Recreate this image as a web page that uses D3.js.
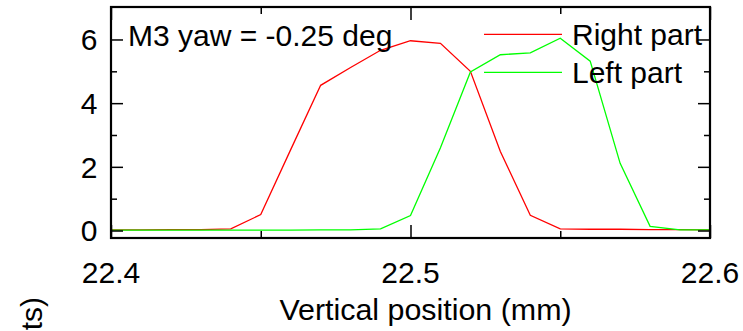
<!DOCTYPE html>
<html>
<head>
<meta charset="utf-8">
<script src="https://cdn.jsdelivr.net/npm/d3@7"></script>
<style>
  html, body { margin: 0; padding: 0; background: #fff; }
  svg { display: block; }
  text { font-family: "Liberation Sans", Arial, sans-serif; fill: #000; }
</style>
</head>
<body>
<svg id="chart" width="743" height="331"></svg>
<script>
// ---- data ----
const positions = [22.40, 22.41, 22.42, 22.43, 22.44, 22.45, 22.46, 22.47, 22.48, 22.49, 22.50,
                   22.51, 22.52, 22.53, 22.54, 22.55, 22.56, 22.57, 22.58, 22.59, 22.60];
const rightPart = [0.02, 0.02, 0.03, 0.03, 0.05, 0.50, 2.54, 4.56, 5.12, 5.66, 5.96,
                   5.88, 5.00, 2.48, 0.48, 0.05, 0.04, 0.04, 0.03, 0.03, 0.02];
const leftPart  = [0.01, 0.01, 0.01, 0.01, 0.01, 0.01, 0.01, 0.02, 0.02, 0.05, 0.47,
                   2.60, 4.98, 5.52, 5.58, 6.04, 5.32, 2.11, 0.13, 0.02, 0.02];
const seriesNames = ["Right part", "Left part"];
const seriesColors = ["#ff0000", "#00ff00"];
const xMajorTicks = [22.4, 22.5, 22.6];
const xMinorTicks = [22.45, 22.55];
const yMajorTicks = [0, 2, 4, 6];
const yMinorTicks = [1, 3, 5];
const annotation = "M3 yaw = -0.25 deg";
const xTitle = "Vertical position (mm)";
const yTitle = "Intensity (counts)";

// ---- layout ----
const L = 111, R = 710, T = 7, B = 238;
const svg = d3.select("#chart");
const x = d3.scaleLinear().domain([22.4, 22.6]).range([L, R]);
const y = d3.scaleLinear().domain([-0.235, 7.02]).range([B, T]);
const FS = 30;

// lines
const line = d3.line().x(d => x(d[0])).y(d => y(d[1]));
[rightPart, leftPart].forEach((vals, i) => {
  svg.append("path")
    .datum(positions.map((p, j) => [p, vals[j]]))
    .attr("d", line)
    .attr("fill", "none")
    .attr("stroke", seriesColors[i])
    .attr("stroke-width", 1.3);
});

// axes with inward ticks
function tickAxis(axisGen, transform) {
  const g = svg.append("g").attr("transform", transform).call(axisGen);
  g.select(".domain").remove();
  g.selectAll("text").remove();
  g.selectAll("line").attr("stroke", "#000").attr("stroke-width", 1.5);
}
tickAxis(d3.axisBottom(x).tickValues(xMajorTicks).tickSize(-13), `translate(0,${B})`);
tickAxis(d3.axisBottom(x).tickValues(xMinorTicks).tickSize(-7), `translate(0,${B})`);
tickAxis(d3.axisTop(x).tickValues(xMajorTicks).tickSize(-13), `translate(0,${T})`);
tickAxis(d3.axisTop(x).tickValues(xMinorTicks).tickSize(-7), `translate(0,${T})`);
tickAxis(d3.axisLeft(y).tickValues(yMajorTicks).tickSize(-12), `translate(${L},0)`);
tickAxis(d3.axisLeft(y).tickValues(yMinorTicks).tickSize(-6), `translate(${L},0)`);
tickAxis(d3.axisRight(y).tickValues(yMajorTicks).tickSize(-12), `translate(${R},0)`);
tickAxis(d3.axisRight(y).tickValues(yMinorTicks).tickSize(-6), `translate(${R},0)`);

// frame
svg.append("rect")
  .attr("x", L).attr("y", T).attr("width", R - L).attr("height", B - T)
  .attr("fill", "none").attr("stroke", "#000").attr("stroke-width", 2.2);

// tick labels
svg.selectAll(".xl").data(xMajorTicks).enter().append("text")
  .attr("x", d => x(d)).attr("y", 283)
  .attr("text-anchor", "middle").attr("font-size", FS)
  .text(d => d3.format(".1f")(d));
svg.selectAll(".yl").data(yMajorTicks).enter().append("text")
  .attr("x", 97.5).attr("y", d => y(d)).attr("dy", "0.36em")
  .attr("text-anchor", "end").attr("font-size", FS)
  .text(d => d);

// titles
svg.append("text").attr("x", 425.5).attr("y", 320)
  .attr("text-anchor", "middle").attr("font-size", 30.4).text(xTitle);
svg.append("text").attr("transform", "translate(42,297) rotate(-90)")
  .attr("text-anchor", "end").attr("font-size", FS).text(yTitle);

// annotation
svg.append("text").attr("x", 128).attr("y", 46)
  .attr("font-size", FS).text(annotation);

// legend
const legY = [34.3, 72.3];
seriesNames.forEach((name, i) => {
  svg.append("line")
    .attr("x1", 484).attr("x2", 562).attr("y1", legY[i]).attr("y2", legY[i])
    .attr("stroke", seriesColors[i]).attr("stroke-width", 1.3);
  svg.append("text").attr("x", 572).attr("y", legY[i] + 10.7)
    .attr("font-size", FS).text(name);
});
</script>
</body>
</html>
